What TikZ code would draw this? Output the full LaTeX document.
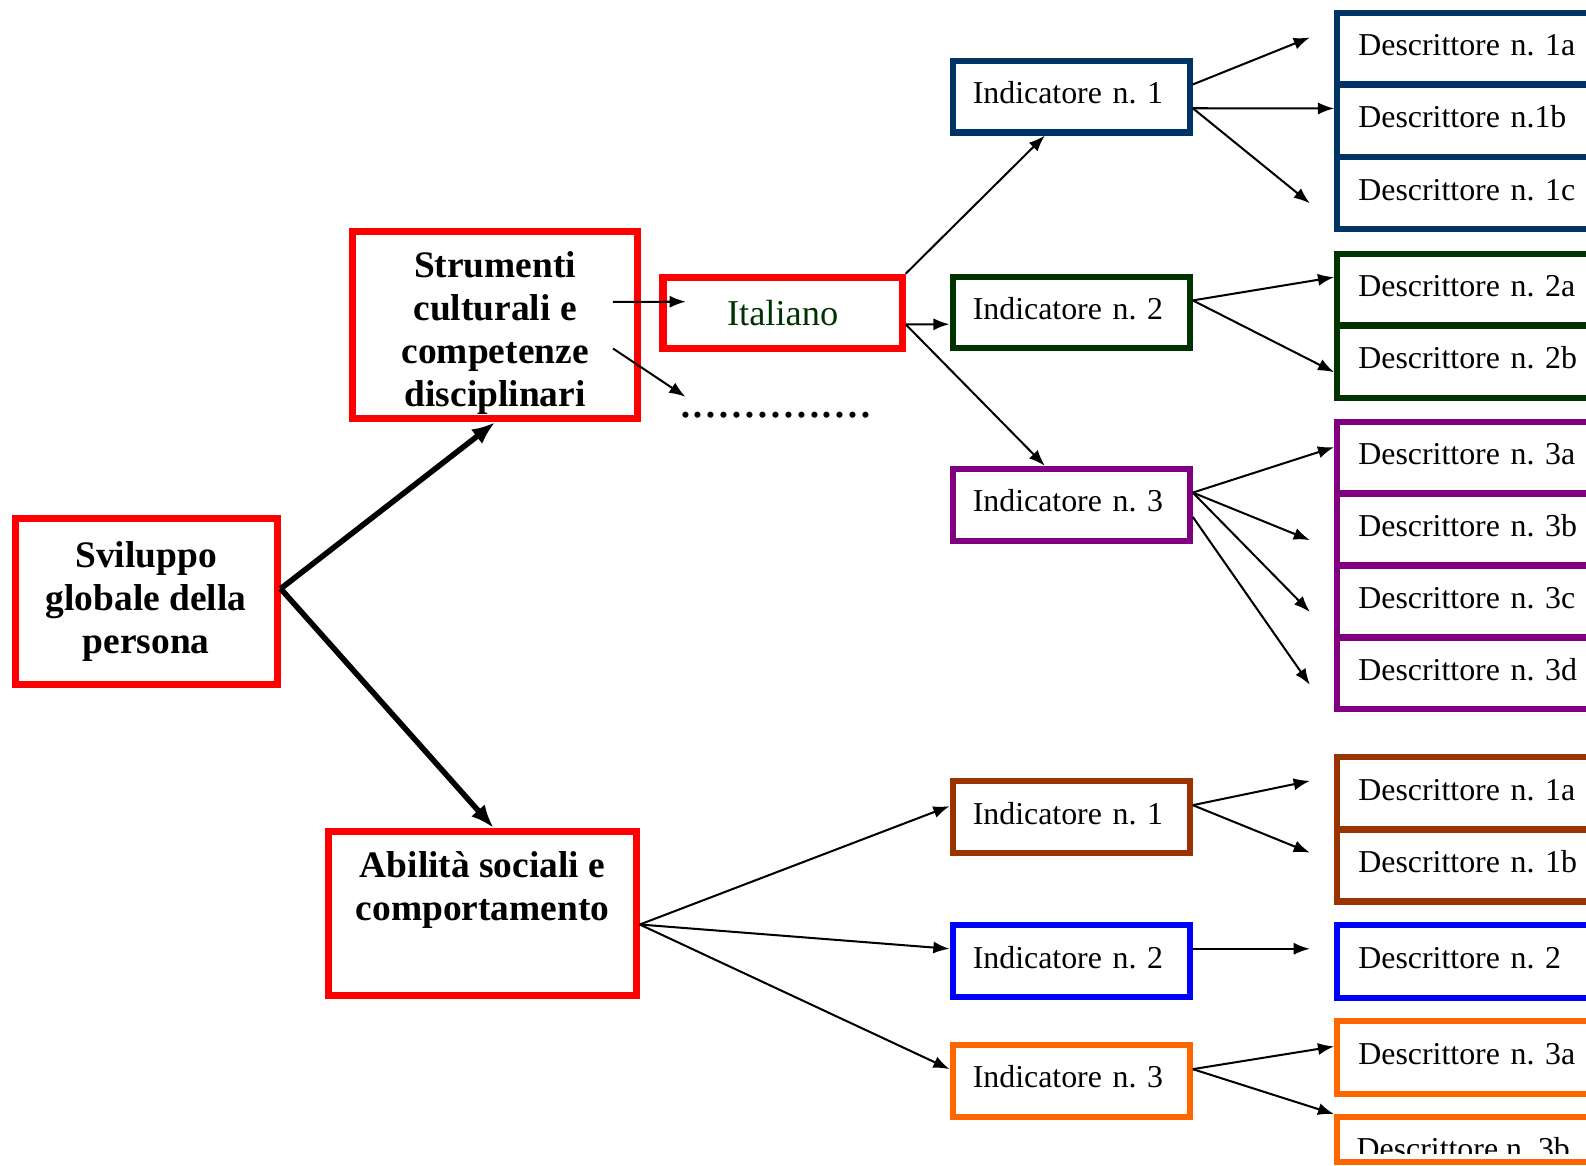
\documentclass[tikz,border=0pt]{standalone}
\usepackage{fontspec}
\setmainfont{Liberation Serif}
\usetikzlibrary{arrows.meta}

\definecolor{boxred}{HTML}{FF0000}
\definecolor{navyblue}{HTML}{003366}
\definecolor{darkgreen}{HTML}{003300}
\definecolor{violet}{HTML}{800080}
\definecolor{rust}{HTML}{993300}
\definecolor{pureblue}{HTML}{0000FF}
\definecolor{deeporange}{HTML}{FF6600}

\begin{document}
\frenchspacing
\begin{tikzpicture}[x=1pt,y=-1pt,
  mainbox/.style={draw=boxred, line width=7pt, align=center, inner sep=0pt,
    font=\fontsize{37}{42.5}\selectfont\bfseries},
  indbox/.style={draw=#1, line width=6pt, minimum height=71pt,
    text width=194.5pt, inner xsep=20pt, inner ysep=0pt, align=left,
    text height=23pt, text depth=9pt, font=\fontsize{31.5}{36}\selectfont},
  descbox/.style={draw=#1, line width=6pt, anchor=west, minimum height=71.5pt,
    text width=258pt, inner xsep=21pt, inner ysep=0pt, align=left,
    text height=23pt, text depth=9pt, font=\fontsize{31.5}{36}\selectfont},
  conn/.style={line width=2pt, -{Latex[length=16pt,width=12pt]}},
  bigconn/.style={line width=5.5pt, -{Latex[length=23pt,width=18pt]}}
]
\useasboundingbox (0,0) rectangle (1568,1152);
\clip (0,0) rectangle (1568,1152);

% main areas
\node[mainbox, minimum width=259pt, minimum height=164pt] (svil) at (144.5,595)
  {Sviluppo\\globale della\\persona};
\node[mainbox, minimum width=282pt, minimum height=185pt] (strum) at (489.5,321.5)
  {\rule{0pt}{42pt}Strumenti\\culturali e\\competenze\\disciplinari};
\node[mainbox, minimum width=304pt, minimum height=162pt] (abil) at (477,903)
  {Abilità sociali e\\comportamento\\[12pt]\mbox{}};
\node[draw=boxred, line width=7pt, inner sep=0pt, minimum width=236.5pt,
  minimum height=70.5pt, text=darkgreen, font=\fontsize{36}{40}\selectfont]
  (ital) at (773.75,309.25) {Italiano};
\node[inner sep=0pt, font=\fontsize{51}{51}\selectfont] (dots) at (767,410)
  {...............};

% indicators (upper branch)
\node[indbox=navyblue] (ind1) at (1059,95.5) {Indicatore n. 1};
\node[indbox=darkgreen] (ind2) at (1059,309) {Indicatore n. 2};
\node[indbox=violet] (ind3) at (1059,499) {Indicatore n. 3};

% indicators (lower branch)
\node[indbox=rust] (bind1) at (1059,808) {Indicatore n. 1};
\node[indbox=pureblue] (bind2) at (1059,950) {Indicatore n. 2};
\node[indbox=deeporange] (bind3) at (1059,1068.5) {Indicatore n. 3};

% descriptors (upper branch)
\node[descbox=navyblue] (d1a) at (1319,48.25) {Descrittore n. 1a};
\node[descbox=navyblue] (d1b) at (1319,119.25) {Descrittore n.1b};
\node[descbox=navyblue] (d1c) at (1319,191) {Descrittore n. 1c};
\node[descbox=darkgreen] (d2a) at (1319,286.5) {Descrittore n. 2a};
\node[descbox=darkgreen] (d2b) at (1319,357.5) {Descrittore n. 2b};
\node[descbox=violet] (d3a) at (1319,452.5) {Descrittore n. 3a};
\node[descbox=violet] (d3b) at (1319,523.5) {Descrittore n. 3b};
\node[descbox=violet] (d3c) at (1319,594.5) {Descrittore n. 3c};
\node[descbox=violet] (d3d) at (1319,665.5) {Descrittore n. 3d};

% descriptors (lower branch)
\node[descbox=rust] (bd1a) at (1319,784.5) {Descrittore n. 1a};
\node[descbox=rust] (bd1b) at (1319,855.5) {Descrittore n. 1b};
\node[descbox=pureblue] (bd2) at (1319,950.5) {Descrittore n. 2};
\node[descbox=deeporange] (bd3a) at (1319,1045.5) {Descrittore n. 3a};
\node[descbox=deeporange, minimum height=44pt] (bd3b) at (1319,1126.5) {};
\begin{scope}
  \clip (1300,1100) rectangle (1568,1140);
  \node[anchor=base west, inner sep=0pt, font=\fontsize{31.5}{36}\selectfont]
    (bd3btext) at (1341,1146) {Descrittore n. 3b};
\end{scope}

% open arrow ends
\coordinate (f1a) at (1295,37);
\coordinate (f1c) at (1295,201);
\coordinate (f3b) at (1295,534);
\coordinate (f3c) at (1295,605);
\coordinate (f3d) at (1295,677);
\coordinate (g1a) at (1295,772);
\coordinate (g1b) at (1295,843);
\coordinate (g2) at (1295,938);

% thick arrows from the root
\draw[bigconn] ([yshift=13pt]svil.east) -- (strum.south);
\draw[bigconn] ([yshift=13pt]svil.east) -- ([xshift=11pt]abil.north);

% subject area
\draw[conn] ([xshift=-28pt,yshift=23pt]strum.east) -- ([xshift=26pt,yshift=11pt]ital.west);
\draw[conn] ([xshift=-28pt,yshift=-23pt]strum.east) -- ([xshift=6.5pt,yshift=14.5pt]dots.north west);
\draw[conn] (ital.north east) -- ([xshift=-26pt]ind1.south);
\draw[conn] ([yshift=-11.5pt]ital.east) -- ([yshift=-11.5pt]ind2.west);
\draw[conn] ([yshift=-11.5pt]ital.east) -- ([xshift=-26pt]ind3.north);

% upper indicators to descriptors
\draw[conn] ([yshift=12pt]ind1.east) -- (f1a);
\draw[conn] ([yshift=-11.5pt]ind1.east) -- ([yshift=12pt]d1b.west);
\draw[conn] ([yshift=-11.5pt]ind1.east) -- (f1c);
\draw[conn] ([yshift=12pt]ind2.east) -- ([yshift=12.5pt]d2a.west);
\draw[conn] ([yshift=12pt]ind2.east) -- ([yshift=-10.5pt]d2b.west);
\draw[conn] ([yshift=12pt]ind3.east) -- ([yshift=10.5pt]d3a.west);
\draw[conn] ([yshift=12pt]ind3.east) -- (f3b);
\draw[conn] ([yshift=12pt]ind3.east) -- (f3c);
\draw[conn] ([yshift=-12pt]ind3.east) -- (f3d);

% social skills branch
\draw[conn] ([yshift=-11pt]abil.east) -- ([yshift=11pt]bind1.west);
\draw[conn] ([yshift=-11pt]abil.east) -- ([yshift=12pt]bind2.west);
\draw[conn] ([yshift=-11pt]abil.east) -- ([yshift=11.5pt]bind3.west);
\draw[conn] ([yshift=12pt]bind1.east) -- (g1a);
\draw[conn] ([yshift=12pt]bind1.east) -- (g1b);
\draw[conn] ([yshift=12pt]bind2.east) -- (g2);
\draw[conn] ([yshift=11.5pt]bind3.east) -- ([yshift=11pt]bd3a.west);
\draw[conn] ([yshift=11.5pt]bind3.east) -- (bd3b.north west);
\end{tikzpicture}
\end{document}
